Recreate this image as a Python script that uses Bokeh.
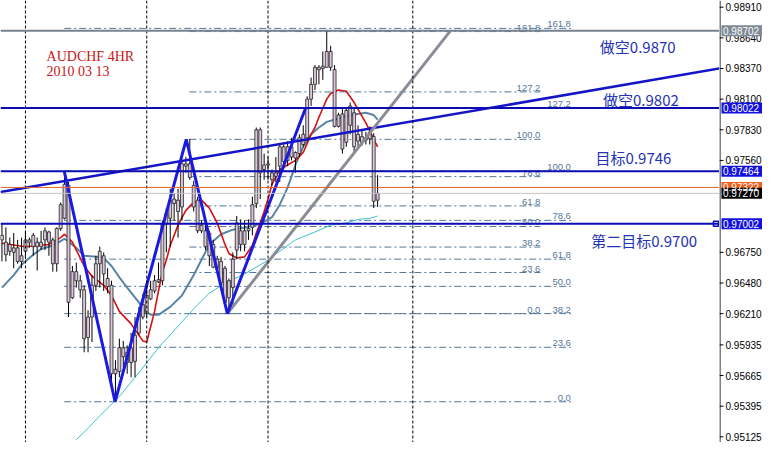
from bokeh.plotting import figure
from bokeh.layouts import row
from bokeh.models import Range1d, Span, ColumnDataSource
from bokeh.core.properties import value
from bokeh.embed import file_html
from bokeh.resources import INLINE

# ---------------- data (AUDCHF 4H) ----------------
bars = list(range(97))
open_ = [.9686,.9684,.9676,.9679,.9679,.9667,.9676,.9684,.9690,.9680,
         .9680,.9686,.9693,.9686,.9665,.9696,.9705,.9734,.9635,.9658,
         .9650,.9642,.9600,.9618,.9646,.9665,.9672,.9652,.9646,.9568,
         .9570,.9591,.9578,.9591,.9579,.9604,.9618,.9621,.9634,.9641,
         .9649,.9650,.9700,.9705,.9718,.9721,.9715,.9751,.9753,.9734,
         .9721,.9699,.9694,.9692,.9682,.9669,.9667,.9661,.9635,.9644,
         .9677,.9694,.9682,.9694,.9697,.9718,.9783,.9748,.9752,.9745,
         .9742,.9751,.9768,.9756,.9759,.9763,.9762,.9770,.9776,.9810,
         .9823,.9836,.9837,.9838,.9852,.9836,.9786,.9797,.9772,.9804,
         .9798,.9773,.9777,.9776,.9775,.9777,.9721]
close = [.9690,.9673,.9682,.9675,.9667,.9672,.9686,.9686,.9680,.9684,
         .9684,.9694,.9684,.9665,.9696,.9717,.9735,.9631,.9658,.9650,
         .9642,.9599,.9618,.9646,.9665,.9676,.9656,.9645,.9568,.9572,
         .9591,.9583,.9587,.9578,.9602,.9621,.9629,.9637,.9642,.9650,
         .9651,.9700,.9709,.9721,.9722,.9711,.9753,.9753,.9741,.9715,
         .9694,.9694,.9680,.9672,.9662,.9661,.9648,.9631,.9650,.9669,
         .9701,.9682,.9694,.9696,.9717,.9783,.9745,.9752,.9753,.9739,
         .9745,.9768,.9755,.9768,.9768,.9758,.9776,.9779,.9810,.9823,
         .9838,.9838,.9839,.9852,.9838,.9786,.9796,.9766,.9800,.9787,
         .9768,.9779,.9772,.9774,.9781,.9720,.9727]
high = [.9700,.9697,.9688,.9692,.9686,.9688,.9694,.9688,.9692,.9688,
        .9694,.9697,.9694,.9688,.9697,.9719,.9746,.9737,.9663,.9666,
        .9655,.9646,.9624,.9655,.9672,.9680,.9675,.9661,.9650,.9580,
        .9599,.9597,.9593,.9604,.9618,.9627,.9638,.9646,.9650,.9655,
        .9666,.9703,.9714,.9731,.9727,.9731,.9756,.9759,.9775,.9738,
        .9724,.9703,.9700,.9694,.9686,.9672,.9671,.9663,.9652,.9675,
        .9707,.9704,.9703,.9704,.9724,.9785,.9785,.9762,.9759,.9748,
        .9759,.9770,.9770,.9773,.9776,.9764,.9779,.9787,.98125,.9829,
        .9840,.9840,.9852,.9871,.9857,.9840,.9798,.9802,.9802,.9807,
        .9802,.9787,.9783,.9781,.9786,.9780,.9743]
low = [.9667,.9667,.9672,.9661,.9665,.9661,.9669,.9679,.9672,.9659,
       .9677,.9677,.9672,.9658,.9658,.9694,.9704,.9618,.9634,.9644,
       .9635,.9587,.9587,.9596,.9641,.9644,.9641,.9639,.9559,.9545,
       .9565,.9574,.9568,.9565,.9565,.9602,.9616,.9618,.9633,.9639,
       .9648,.9646,.9675,.9680,.9703,.9688,.9703,.9745,.9739,.9711,
       .9692,.9692,.9677,.9663,.9661,.9658,.9644,.9629,.9621,.9629,
       .9669,.9676,.9676,.9686,.9690,.9714,.9722,.9739,.9739,.9734,
       .9737,.9737,.9748,.9751,.9756,.9745,.9759,.9768,.9773,.9804,
       .9818,.9823,.9827,.9838,.9835,.9785,.9785,.9762,.9768,.9779,
       .9762,.9768,.9769,.9770,.9770,.9714,.9715]

# moving averages
ma_red_x = [0,6,12,15,16,18,21,23,26,28,30,33,36,37,39,40,41,42,43,45,47,49,51,53,55,57,58,60,62,64,
            65,66,67,68,69,71,73,75,77,79,80,81,82,83,84,86,88,90,91,92,93,94,95,96]
ma_red_y = [.9683,.9680,.9682,.9688,.9691,.9684,.9663,.9654,.9646,.9637,.9623,.9612,.9597,.9596,.9623,
            .9641,.9658,.9668,.9681,.9699,.9712,.9719,.9721,.9714,.9701,.9682,.9674,.9670,.9671,.9681,
            .9692,.9701,.9711,.9722,.9735,.9748,.9752,.9756,.9763,.9779,.9785,.9794,.9802,.9810,.9815,
            .9818,.9817,.9807,.9801,.9795,.9789,.9782,.9775,.9768]
ma_mid_x = [0,3,5,8,10,13,15,16,19,21,25,26,28,30,32,35,36,38,40,43,46,49,53,56,59,62,66,69,71,73,
            75,77,79,81,83,86,89,91,93,95,96]
ma_mid_y = [.9644,.9655,.9664,.9673,.9678,.9681,.9685,.9687,.9679,.9672,.9671,.9670,.9663,.9653,.9644,
            .9631,.9625,.9620,.9620,.9627,.9637,.9655,.9682,.9691,.9695,.9697,.9700,.9706,.9717,.9732,
            .9752,.9768,.9779,.9785,.9790,.9793,.9796,.9797,.9798,.9796,.9792]
ma_slow_x = [19,22,25,30,35,40,45,50,53,57,62,67,71,75,80,84,88,91,94,96]
ma_slow_y = [.9510,.9520,.9531,.9548,.9569,.9591,.9610,.9629,.9639,.9648,.9656,.9666,.9676,.9686,
             .9693,.9699,.9701,.9704,.9705,.9707]

# drawn objects
zigzag_x = [15.9, 28.9, 47.1, 57.6, 77.6]
zigzag_y = [0.97467, 0.95434, 0.97746, 0.96210, 0.98022]
trend_x = [16, 83]
trend_y = [0.97378, 0.97775]
gray_trend_x = [57.6, 114.6]
gray_trend_y = [0.96210, 0.98702]
hlines_blue = [0.98022, 0.97464, 0.97002]
hline_gray = 0.98702
ask_price = 0.97322
bid_price = 0.97270
fib_levels = [0.0, 23.6, 38.2, 50.0, 61.8, 78.6, 100.0, 127.2, 161.8]
fibA = dict(low=0.96210, high=0.97746, x0=47.9, x1=137.6)
fibB = dict(low=0.95434, high=0.97467, x0=15.9, x1=145.4)
separators = [6, 37, 68, 105]
notes = ["做空0.9870", "做空0.9802", "目标0.9746", "第二目标0.9700"]
notes_x = [152.8, 153.6, 151.7, 150.6]
notes_y = [0.98564, 0.98100, 0.97585, 0.96851]
title_lines = ["AUDCHF 4HR", "2010 03 13"]
title_x = [11.4, 11.4]
title_y = [0.98539, 0.98412]
axis_ticks = [0.95125, 0.95395, 0.95665, 0.95935, 0.96210, 0.96480, 0.96750,
              0.97560, 0.97830, 0.98100, 0.98370, 0.98640, 0.98910]
tag_prices = [0.98702, 0.98022, 0.97464, 0.97322, 0.97270, 0.97002]
tag_colors = ["#7d8996", "#1010e0", "#1010e0", "#f0601c", "#000000", "#1010e0"]

# ---------------- main chart ----------------
X0, X1 = -0.375, 183.375
yr = Range1d(0.95075, 0.98969)
p = figure(width=719, height=442, output_backend="svg", toolbar_location=None,
           x_range=Range1d(X0, X1), y_range=yr,
           x_axis_location=None, y_axis_location=None)
p.min_border = 0
p.outline_line_color = None
p.grid.visible = False
p.background_fill_color = "white"

for s in separators:
    p.add_layout(Span(location=s, dimension="height", line_color="black",
                      line_dash="3 2", line_width=1))

# fibonacci retracements
fib_col = "#55779a"
for fb in (fibA, fibB):
    lv_y = [fb["low"] + lv / 100.0 * (fb["high"] - fb["low"]) for lv in fib_levels]
    src = ColumnDataSource(dict(x0=[fb["x0"]] * len(lv_y), x1=[fb["x1"]] * len(lv_y), y=lv_y,
                                t=["%.1f" % lv for lv in fib_levels]))
    p.segment(x0="x0", y0="y", x1="x1", y1="y", source=src, line_color=fib_col,
              line_width=1, line_dash="7 3 2 3")
    p.text(x="x1", y="y", text="t", source=src, text_align="right", text_baseline="bottom",
           y_offset=-1, text_font=value("Liberation Sans"), text_font_size="9.5px",
           text_color=fib_col)

# moving averages
p.line(ma_slow_x, ma_slow_y, line_color="#3cc4cc", line_width=1)
p.line(ma_mid_x, ma_mid_y, line_color="#5884a6", line_width=2)
p.line(ma_red_x, ma_red_y, line_color="#d81010", line_width=1.6)

# candles
body_top = [max(o, c) for o, c in zip(open_, close)]
body_bot = [min(o, c) for o, c in zip(open_, close)]
p.segment(x0=bars, y0=low, x1=bars, y1=high, line_color="black", line_width=1)
p.vbar(x=bars, width=0.75, top=body_top, bottom=body_bot, fill_color="#dcc6dc",
       line_color="#202020", line_width=0.8)

# horizontal levels
p.add_layout(Span(location=hline_gray, dimension="width", line_color="#76838f", line_width=2))
for h in hlines_blue:
    p.add_layout(Span(location=h, dimension="width", line_color="#0c0cb4", line_width=2))
p.add_layout(Span(location=ask_price, dimension="width", line_color="#e0642a", line_width=1))
p.add_layout(Span(location=bid_price, dimension="width", line_color="#c4c4c4", line_width=1))

# trend lines
slope = (trend_y[1] - trend_y[0]) / (trend_x[1] - trend_x[0])
p.line([X0, X1], [trend_y[0] + slope * (X0 - trend_x[0]), trend_y[0] + slope * (X1 - trend_x[0])],
       line_color="#1414c8", line_width=2.5)
p.line(gray_trend_x, gray_trend_y, line_color="#8a8c96", line_width=3)
p.line(zigzag_x, zigzag_y, line_color="#1a1ae0", line_width=3)
p.scatter([X1 - 0.9], [hlines_blue[2]], marker="square", size=5, line_color="#0c0cb4",
          fill_color="white", line_width=1.5)

# texts
p.text(x=notes_x, y=notes_y, text=notes, text_font=value("Noto Sans CJK SC"),
       text_font_size="15px", text_color="#2432b4", text_baseline="middle")
p.text(x=title_x, y=title_y, text=title_lines, text_font=value("Liberation Serif"),
       text_font_size="14px", text_color="#c81414", text_baseline="top")

# ---------------- price scale (right) ----------------
s = figure(width=43, height=442, output_backend="svg", toolbar_location=None,
           x_range=Range1d(0, 43), y_range=yr, x_axis_location=None, y_axis_location=None)
s.min_border = 0
s.outline_line_color = None
s.grid.visible = False
s.add_layout(Span(location=0.5, dimension="height", line_color="black", line_width=1))
s.segment(x0=[0] * len(axis_ticks), x1=[4] * len(axis_ticks), y0=axis_ticks, y1=axis_ticks,
          line_color="black", line_width=1)
s.text(x=[6] * len(axis_ticks), y=axis_ticks, text=["%.5f" % t for t in axis_ticks],
       text_font=value("Liberation Sans"), text_font_size="10px", text_color="black",
       text_baseline="middle")
s.rect(x=[22.5] * len(tag_prices), y=tag_prices, width=41, height=11, height_units="screen",
       fill_color=tag_colors, line_color=None)
s.text(x=[3.5] * len(tag_prices), y=tag_prices, text=["%.5f" % t for t in tag_prices],
       text_font=value("Liberation Sans"), text_font_size="10px", text_color="white",
       text_baseline="middle")

layout = row(p, s, spacing=0)
open("out.html", "w").write(file_html(layout, INLINE))
